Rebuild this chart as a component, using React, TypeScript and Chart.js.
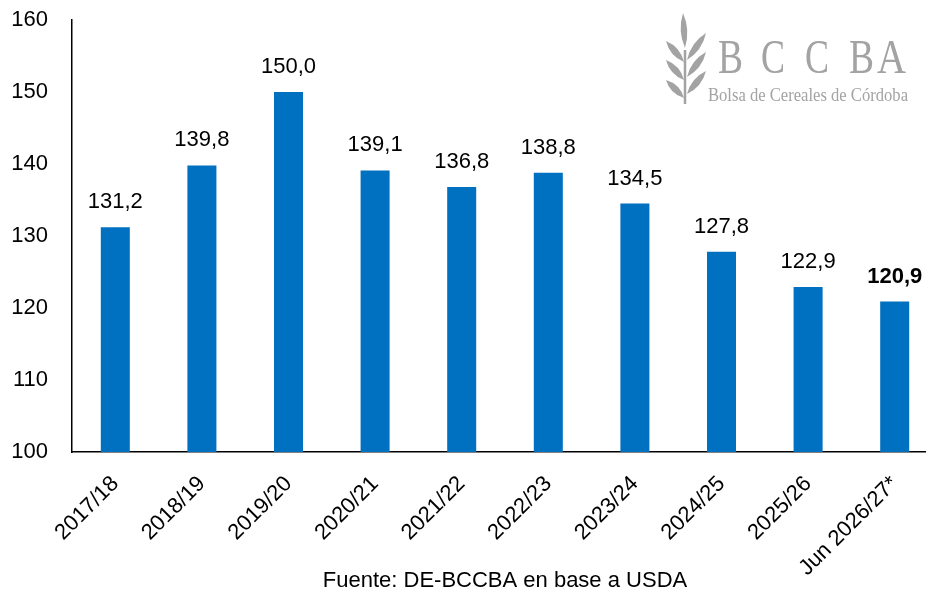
import React, { useEffect, useRef } from "react";
import { Chart, registerables } from "chart.js";

Chart.register(...registerables);

const categories = [
  "2017/18", "2018/19", "2019/20", "2020/21", "2021/22",
  "2022/23", "2023/24", "2024/25", "2025/26", "Jun 2026/27*",
];
const values = [131.2, 139.8, 150.0, 139.1, 136.8, 138.8, 134.5, 127.8, 122.9, 120.9];
const yMin = 100;
const yMax = 160;
const yStep = 10;
const sourceText = "Fuente: DE-BCCBA en base a USDA";
const logoLetters = ["B", "C", "C", "B", "A"];
const logoSubtitle = "Bolsa de Cereales de Córdoba";

const FONT = "'Liberation Sans', Arial, sans-serif";
const SERIF = "'Liberation Serif', 'DejaVu Serif', serif";
const BAR_COLOR = "#0070C0";
const LOGO_GRAY = "#a3a3a3";

function leaf(ctx: CanvasRenderingContext2D, bx: number, by: number, tx: number, ty: number, w: number) {
  const mx = (bx + tx) / 2;
  const my = (by + ty) / 2;
  const dx = tx - bx;
  const dy = ty - by;
  const len = Math.hypot(dx, dy);
  const px = (-dy / len) * w;
  const py = (dx / len) * w;
  ctx.beginPath();
  ctx.moveTo(bx, by);
  ctx.quadraticCurveTo(mx + px, my + py, tx, ty);
  ctx.quadraticCurveTo(mx - px, my - py, bx, by);
  ctx.closePath();
  ctx.fill();
}

const decoPlugin = {
  id: "deco",
  afterDatasetsDraw(chart: any) {
    const ctx = chart.ctx as CanvasRenderingContext2D;
    const meta = chart.getDatasetMeta(0);
    ctx.save();
    ctx.fillStyle = "#000";
    ctx.textAlign = "center";
    ctx.textBaseline = "alphabetic";
    meta.data.forEach((bar: any, i: number) => {
      const last = i === values.length - 1;
      ctx.font = `${last ? "bold " : ""}22px ${FONT}`;
      const txt = values[i].toFixed(1).replace(".", ",");
      ctx.fillText(txt, bar.x, bar.y - 19);
    });
    ctx.restore();
  },
  afterDraw(chart: any) {
    const ctx = chart.ctx as CanvasRenderingContext2D;
    const area = chart.chartArea;
    ctx.save();
    // source
    ctx.fillStyle = "#000";
    ctx.font = `22px ${FONT}`;
    ctx.textAlign = "center";
    ctx.textBaseline = "alphabetic";
    ctx.fillText(sourceText, (area.left + area.right) / 2, 587);

    // logo
    ctx.fillStyle = LOGO_GRAY;
    ctx.strokeStyle = LOGO_GRAY;
    ctx.lineWidth = 2.5;
    ctx.beginPath();
    ctx.moveTo(685, 50);
    ctx.lineTo(685, 104);
    ctx.stroke();
    leaf(ctx, 685, 48, 683, 13, 6.5);
    leaf(ctx, 687, 60, 706, 33, 7);
    leaf(ctx, 687, 77, 706, 52, 7);
    leaf(ctx, 687, 94, 706, 71, 7);
    leaf(ctx, 684, 62, 666, 41, 7);
    leaf(ctx, 684, 80, 666, 60, 7);
    leaf(ctx, 684, 98, 666, 80, 7);

    ctx.textAlign = "left";
    ctx.font = `48px ${SERIF}`;
    const starts = [718, 761, 805, 849, 877];
    const widths = [25, 24, 24, 25, 29];
    logoLetters.forEach((l, i) => {
      ctx.fillText(l, starts[i], 73, widths[i]);
    });
    ctx.font = `19px ${SERIF}`;
    ctx.fillText(logoSubtitle, 708, 101, 200);
    ctx.restore();
  },
};

export default function App() {
  const ref = useRef<HTMLCanvasElement>(null);
  useEffect(() => {
    if (!ref.current) return;
    const chart = new Chart(ref.current, {
      type: "bar",
      data: {
        labels: categories,
        datasets: [
          {
            data: values,
            backgroundColor: BAR_COLOR,
            borderWidth: 0,
            categoryPercentage: 1,
            barPercentage: 0.335,
          },
        ],
      },
      options: {
        responsive: false,
        animation: false,
        devicePixelRatio: 1,
        layout: { padding: { top: 20, left: 0, right: 0, bottom: 0 } },
        plugins: {
          legend: { display: false },
          tooltip: { enabled: false },
          title: { display: false },
        },
        scales: {
          x: {
            grid: { display: false, drawTicks: false },
            border: { display: true, color: "#000", width: 1.5 },
            ticks: {
              color: "#000",
              font: { size: 22, family: FONT },
              maxRotation: 45,
              minRotation: 45,
              padding: 19,
              autoSkip: false,
            },
            afterFit(scale: any) {
              scale.height = 141;
              scale.paddingTop = 0;
              scale.paddingBottom = 0;
              scale.paddingLeft = 0;
              scale.paddingRight = 0;
            },
          },
          y: {
            min: yMin,
            max: yMax,
            grid: { display: false, drawTicks: false },
            border: { display: true, color: "#000", width: 1.5 },
            ticks: {
              stepSize: yStep,
              color: "#000",
              font: { size: 22, family: FONT },
              padding: 24,
            },
            afterFit(scale: any) {
              scale.width = 72;
              scale.paddingTop = 0;
              scale.paddingBottom = 0;
              scale.paddingLeft = 0;
              scale.paddingRight = 0;
            },
          },
        },
      },
      plugins: [decoPlugin],
    });
    return () => chart.destroy();
  }, []);
  return (
    <div
      style={{
        position: "fixed",
        left: 0,
        top: 0,
        width: 926,
        height: 593,
        overflow: "hidden",
        background: "#fff",
      }}
    >
      <canvas ref={ref} width={938} height={593} style={{ display: "block" }} />
    </div>
  );
}
